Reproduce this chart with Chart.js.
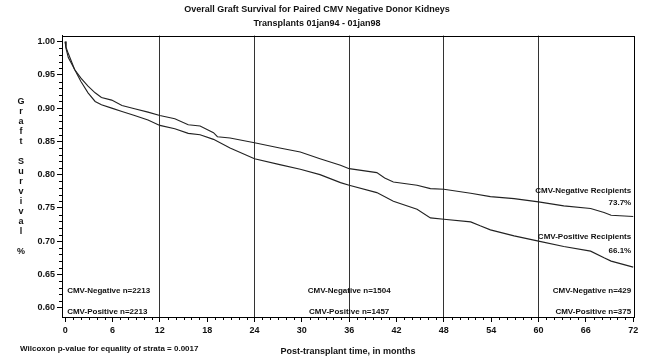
<!DOCTYPE html>
<html>
<head>
<meta charset="utf-8">
<title>Overall Graft Survival</title>
<script src="https://cdn.jsdelivr.net/npm/chart.js@4"></script>
<style>
  html, body { margin: 0; padding: 0; background: #fff; }
  canvas { display: block; }
</style>
</head>
<body>
<canvas id="kmChart" width="650" height="360"></canvas>
<script>
// --- data ---
const titleLines = ['Overall Graft Survival for Paired CMV Negative Donor Kidneys', 'Transplants 01jan94 - 01jan98'];
const xTitle = 'Post-transplant time, in months';
const yTitleLetters = ['G', 'r', 'a', 'f', 't', '', 'S', 'u', 'r', 'v', 'i', 'v', 'a', 'l', '', '%'];
const footnote = 'Wilcoxon p-value for equality of strata = 0.0017';

const negMonths = [0, 0.1, 0.4, 1.2, 2, 2.9, 3.8, 4.6, 5.9, 7.2, 8.8, 10.5, 12, 13.9, 15.6, 17.1, 18.8, 19.3, 20.9, 24, 27.2, 29.8, 32.3, 34.9, 36, 39.5, 40.5, 41.6, 44.6, 46.3, 48, 51.4, 53.9, 56.9, 60, 63.2, 66.6, 68.3, 69.2, 72];
const negSurv   = [1.0, 0.99, 0.976, 0.958, 0.945, 0.933, 0.923, 0.916, 0.912, 0.904, 0.899, 0.894, 0.889, 0.884, 0.875, 0.873, 0.863, 0.857, 0.855, 0.848, 0.840, 0.834, 0.824, 0.814, 0.809, 0.803, 0.795, 0.789, 0.784, 0.779, 0.778, 0.772, 0.767, 0.764, 0.759, 0.753, 0.749, 0.743, 0.739, 0.737];

const posMonths = [0, 0.1, 0.4, 1.2, 2, 2.9, 3.8, 4.6, 5.9, 7.2, 8.8, 10.5, 12, 13.9, 15.6, 17.1, 18.8, 20.9, 24, 27.2, 29.8, 32.3, 34.9, 36, 39.5, 41.6, 44.6, 46.3, 48, 51.4, 52.6, 53.9, 56.9, 60, 63.2, 66.6, 68.3, 69.2, 72];
const posSurv   = [1.0, 0.992, 0.982, 0.958, 0.940, 0.923, 0.910, 0.905, 0.900, 0.895, 0.889, 0.882, 0.874, 0.869, 0.862, 0.860, 0.853, 0.840, 0.824, 0.815, 0.808, 0.800, 0.788, 0.784, 0.773, 0.760, 0.748, 0.735, 0.733, 0.729, 0.723, 0.717, 0.708, 0.700, 0.692, 0.685, 0.675, 0.670, 0.661];

const refLineMonths = [12, 24, 36, 48, 60];
const xTickStep = 6;
const yTickLabels = [0.60, 0.65, 0.70, 0.75, 0.80, 0.85, 0.90, 0.95, 1.00];

const atRiskMonths = [0, 36, 72];
const atRiskNeg = [2213, 1504, 429];
const atRiskPos = [2213, 1457, 375];
const groupNames = ['CMV-Negative', 'CMV-Positive'];
const endLabels = ['CMV-Negative Recipients', 'CMV-Positive Recipients'];
const endPct = ['73.7%', '66.1%'];

const FONT = 'Liberation Sans';
const INK = '#111';

function toPoints(xs, ys) {
    return xs.map((m, i) => ({ x: m, y: ys[i] }));
}

// frame, minor ticks, stacked y title and in-plot annotations
const decorations = {
    id: 'decorations',
    afterDraw(chart) {
        const ctx = chart.ctx;
        const area = chart.chartArea;
        const xs = chart.scales.x;
        const ys = chart.scales.y;
        ctx.save();

        ctx.strokeStyle = '#000';
        ctx.lineWidth = 1;
        ctx.strokeRect(Math.round(area.left) + 0.5, Math.round(area.top) + 0.5,
            Math.round(area.right - area.left), Math.round(area.bottom - area.top));

        // minor ticks
        ctx.beginPath();
        for (let m = 0; m <= 72; m++) {
            if (m % xTickStep === 0) continue;
            const px = Math.round(xs.getPixelForValue(m)) + 0.5;
            ctx.moveTo(px, area.bottom);
            ctx.lineTo(px, area.bottom + 3);
        }
        for (let k = 60; k <= 100; k++) {
            if (k % 5 === 0) continue;
            const py = Math.round(ys.getPixelForValue(k / 100)) + 0.5;
            ctx.moveTo(area.left, py);
            ctx.lineTo(area.left - 3, py);
        }
        ctx.stroke();

        ctx.fillStyle = INK;
        ctx.textBaseline = 'middle';

        // stacked y-axis title
        ctx.font = 'bold 9px "' + FONT + '"';
        ctx.textAlign = 'center';
        const midY = (area.top + area.bottom) / 2;
        const step = 10;
        yTitleLetters.forEach((ch, i) => {
            const y = midY + (i - (yTitleLetters.length - 1) / 2) * step;
            ctx.fillText(ch, 21, y);
        });

        // numbers at risk
        ctx.font = 'bold 8px "' + FONT + '"';
        const negY = ys.getPixelForValue(0.625);
        const posY = ys.getPixelForValue(0.594);
        atRiskMonths.forEach((m, i) => {
            let x = xs.getPixelForValue(m);
            if (i === 0) { ctx.textAlign = 'left'; x += 2; }
            else if (i === atRiskMonths.length - 1) { ctx.textAlign = 'right'; x -= 2; }
            else { ctx.textAlign = 'center'; }
            ctx.fillText(groupNames[0] + ' n=' + atRiskNeg[i], x, negY);
            ctx.fillText(groupNames[1] + ' n=' + atRiskPos[i], x, posY);
        });

        // end-of-curve labels
        ctx.textAlign = 'right';
        const rx = xs.getPixelForValue(72) - 2;
        ctx.fillText(endLabels[0], rx, ys.getPixelForValue(0.775));
        ctx.fillText(endPct[0], rx, ys.getPixelForValue(0.757));
        ctx.fillText(endLabels[1], rx, ys.getPixelForValue(0.707));
        ctx.fillText(endPct[1], rx, ys.getPixelForValue(0.686));

        // footnote
        ctx.textAlign = 'left';
        ctx.fillText(footnote, 20, 349);

        ctx.restore();
    }
};

const ctx = document.getElementById('kmChart').getContext('2d');
new Chart(ctx, {
    type: 'line',
    data: {
        datasets: [
            {
                label: groupNames[0],
                data: toPoints(negMonths, negSurv),
                borderColor: '#222',
                borderWidth: 1.1,
                pointRadius: 0,
                fill: false,
                tension: 0
            },
            {
                label: groupNames[1],
                data: toPoints(posMonths, posSurv),
                borderColor: '#222',
                borderWidth: 1.1,
                pointRadius: 0,
                fill: false,
                tension: 0
            }
        ]
    },
    options: {
        responsive: false,
        animation: false,
        layout: { padding: { left: 0, right: 16, top: 0, bottom: 0 } },
        scales: {
            x: {
                type: 'linear',
                min: -0.4,
                max: 72.1,
                afterBuildTicks: function(scale) {
                    const t = [];
                    for (let m = 0; m <= 72; m++) t.push({ value: m });
                    scale.ticks = t;
                },
                afterFit: function(scale) { scale.height = 43; },
                ticks: {
                    autoSkip: false,
                    maxRotation: 0,
                    padding: 3,
                    color: INK,
                    font: { family: FONT, size: 9, weight: 'bold' },
                    callback: function(value) {
                        return value % xTickStep === 0 ? String(value) : '';
                    }
                },
                grid: {
                    tickLength: 5,
                    lineWidth: 1,
                    color: function(c) {
                        return c.tick && refLineMonths.includes(c.tick.value) ? '#333' : 'rgba(0,0,0,0)';
                    },
                    tickColor: function(c) {
                        return c.tick && c.tick.value % xTickStep === 0 ? '#000' : 'rgba(0,0,0,0)';
                    }
                },
                border: { display: true, color: '#000' },
                title: {
                    display: true,
                    text: xTitle,
                    color: INK,
                    font: { family: FONT, size: 9, weight: 'bold' },
                    padding: { top: 0, bottom: 3 }
                }
            },
            y: {
                type: 'linear',
                min: 0.586,
                max: 1.009,
                afterBuildTicks: function(scale) {
                    scale.ticks = yTickLabels.map(v => ({ value: v }));
                },
                afterFit: function(scale) { scale.width = 62; },
                ticks: {
                    padding: 2,
                    color: INK,
                    font: { family: FONT, size: 9, weight: 'bold' },
                    callback: function(value) { return value.toFixed(2); }
                },
                grid: {
                    tickLength: 5,
                    color: 'rgba(0,0,0,0)',
                    tickColor: '#000'
                },
                border: { display: true, color: '#000' }
            }
        },
        plugins: {
            legend: { display: false },
            tooltip: { enabled: false },
            title: {
                display: true,
                text: titleLines[0],
                color: INK,
                font: { family: FONT, size: 9, weight: 'bold' },
                padding: { top: 4, bottom: 3 }
            },
            subtitle: {
                display: true,
                text: titleLines[1],
                color: INK,
                font: { family: FONT, size: 9, weight: 'bold' },
                padding: { top: 0, bottom: 7 }
            }
        }
    },
    plugins: [decorations]
});
</script>
</body>
</html>
